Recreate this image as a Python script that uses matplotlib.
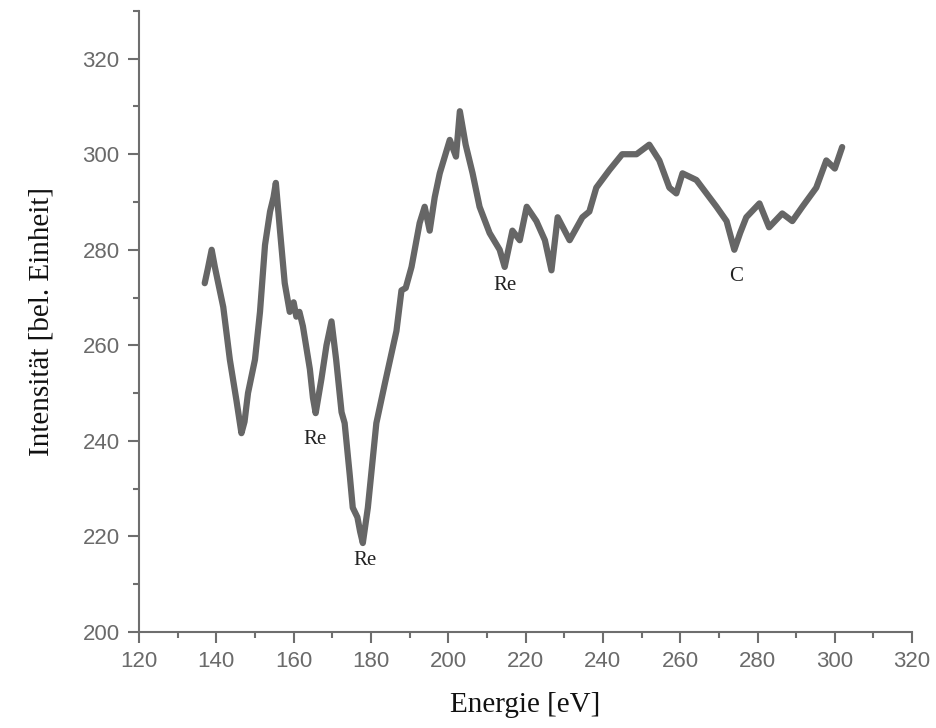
import matplotlib.pyplot as plt
from matplotlib.ticker import MultipleLocator

# Spektrum, Werte
energie = [137.0, 137.8, 138.8, 139.6, 140.5, 141.8, 143.5, 145.2, 146.5, 147.3,
           148.2, 150.0, 151.3, 152.6, 153.9, 154.8, 155.4, 156.4, 157.7, 159.0,
           160.0, 160.7, 161.5, 162.4, 164.2, 165.0, 165.7, 167.2, 168.5, 169.8,
           171.0, 172.4, 173.2, 174.5, 175.3, 176.5, 177.2, 177.9, 179.2, 181.4,
           183.6, 186.6, 187.9, 189.0, 190.5, 192.6, 193.9, 195.2, 196.5, 197.8,
           200.4, 202.0, 203.0, 204.5, 206.3, 208.1, 210.7, 213.3, 214.6, 216.6,
           218.5, 220.3, 222.8, 225.0, 226.7, 228.3, 231.4, 234.7, 236.5, 238.3,
           241.7, 245.0, 248.7, 252.0, 254.6, 257.2, 259.0, 260.6, 264.2, 266.8,
           269.4, 272.0, 274.0, 275.5, 277.1, 280.5, 283.0, 286.4, 289.0, 291.6,
           295.2, 297.8, 300.0, 301.9]
intensitaet = [273.0, 276.0, 280.0, 276.5, 273.0, 268.0, 257.0, 248.5, 241.6, 244.0,
               250.0, 257.0, 267.0, 281.0, 288.0, 291.0, 294.0, 284.7, 273.0, 267.0,
               269.0, 266.0, 267.0, 264.0, 255.0, 249.0, 245.8, 253.0, 260.0, 265.0,
               257.0, 246.0, 243.7, 233.0, 226.0, 224.0, 221.0, 218.6, 226.0, 243.7,
               252.0, 263.0, 271.5, 272.0, 276.4, 285.6, 289.0, 284.0, 291.0, 296.0,
               303.0, 299.5, 309.0, 302.0, 296.0, 289.0, 283.5, 280.0, 276.4, 284.0,
               282.0, 289.0, 286.0, 282.0, 275.7, 286.8, 282.0, 286.8, 288.0, 293.0,
               296.7, 300.0, 300.0, 302.0, 298.7, 293.0, 291.8, 296.0, 294.6, 291.8,
               289.0, 286.0, 280.0, 283.5, 286.8, 289.7, 284.7, 287.6, 286.0, 289.0,
               293.0, 298.7, 297.0, 301.5]

# Peak-Beschriftungen
marken = ["Re", "Re", "Re", "C"]
marken_x = [165.5, 178.4, 214.6, 274.5]
marken_y = [240.2, 215.0, 272.6, 274.3]

achsen_grau = "#6e6e6e"

fig = plt.figure(figsize=(9.36, 7.28), dpi=100)
ax = fig.add_axes([0.1485, 0.132, 0.826, 0.853])

ax.plot(energie, intensitaet, color="#555555", lw=4.5, alpha=0.9,
        solid_joinstyle="round", solid_capstyle="round")

for t, x, y in zip(marken, marken_x, marken_y):
    ax.text(x, y, t, ha="center", va="center", fontsize=15,
            family="Liberation Serif", color="#222222")

ax.set_xlim(120, 320)
ax.set_ylim(200, 330)
ax.set_xticks(range(120, 321, 20))
ax.set_yticks(range(200, 321, 20))
ax.xaxis.set_minor_locator(MultipleLocator(10))
ax.yaxis.set_minor_locator(MultipleLocator(10))

for s in ["top", "right"]:
    ax.spines[s].set_visible(False)
for s in ["left", "bottom"]:
    ax.spines[s].set_color(achsen_grau)
    ax.spines[s].set_linewidth(1.5)

ax.tick_params(which="major", direction="out", length=8, width=1.5,
               color=achsen_grau, labelcolor="#6a6a6a", labelsize=16, pad=6)
ax.tick_params(which="minor", direction="out", length=4.5, width=1.5,
               color=achsen_grau)
for lab in ax.get_xticklabels() + ax.get_yticklabels():
    lab.set_family("Liberation Sans")

ax.set_xlabel("Energie [eV]", fontsize=21, family="Liberation Serif",
              color="#111111", labelpad=14)
ax.set_ylabel("Intensität [bel. Einheit]", fontsize=21,
              family="Liberation Serif", color="#111111", labelpad=20)

fig.savefig("out.png", dpi=100)
